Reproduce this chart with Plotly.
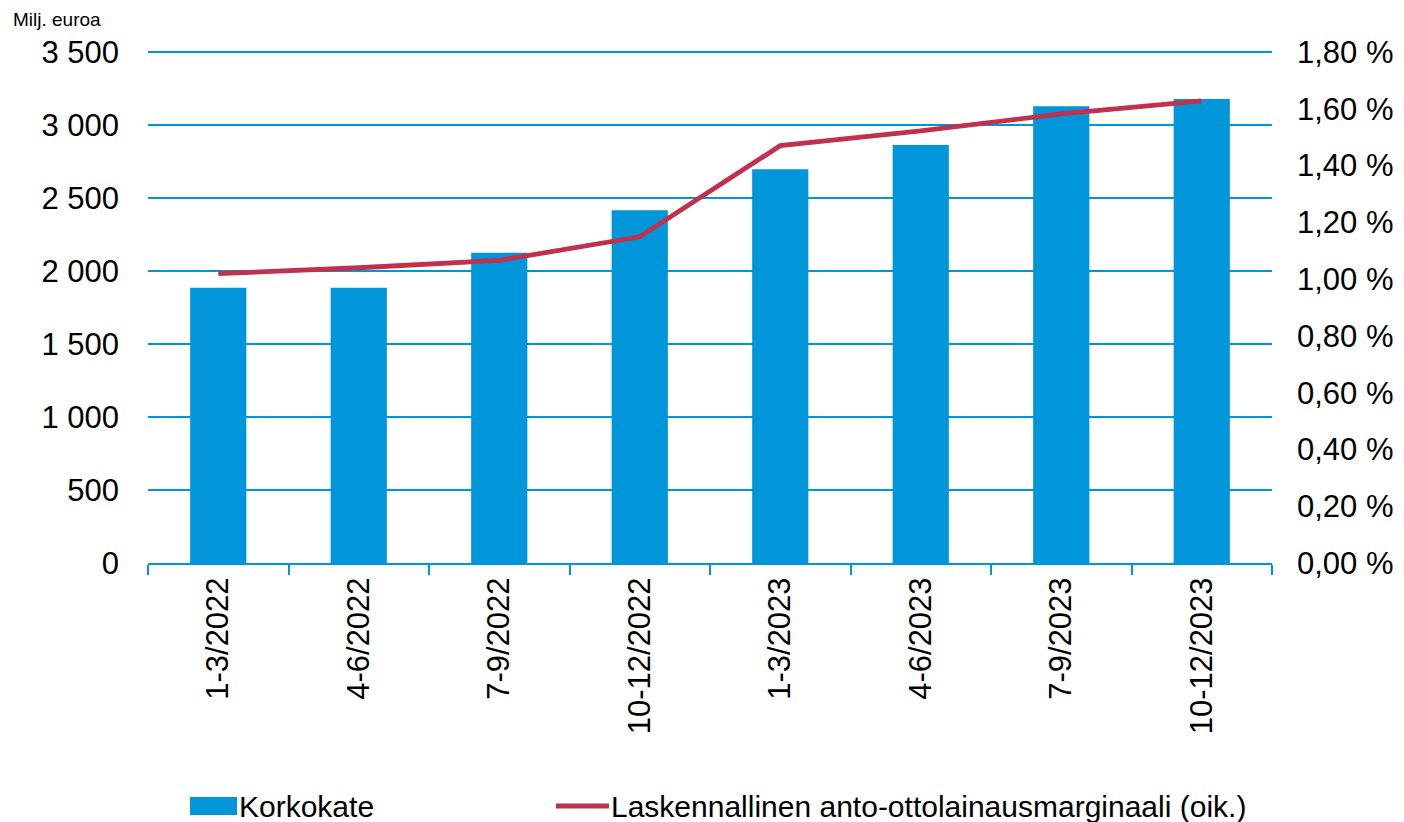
import plotly.graph_objects as go

categories = ["1-3/2022", "4-6/2022", "7-9/2022", "10-12/2022",
              "1-3/2023", "4-6/2023", "7-9/2023", "10-12/2023"]
korkokate = [1885, 1885, 2125, 2416, 2697, 2863, 3128, 3178]
marginaali = [1.019, 1.040, 1.066, 1.149, 1.470, 1.522, 1.582, 1.628]

left_ticks = [0, 500, 1000, 1500, 2000, 2500, 3000, 3500]
left_labels = ["0", "500", "1 000", "1 500", "2 000", "2 500", "3 000", "3 500"]
right_ticks = [0, 0.2, 0.4, 0.6, 0.8, 1.0, 1.2, 1.4, 1.6, 1.8]
right_labels = ["0,00 %", "0,20 %", "0,40 %", "0,60 %", "0,80 %",
                "1,00 %", "1,20 %", "1,40 %", "1,60 %", "1,80 %"]

name_bar = "Korkokate"
name_line = "Laskennallinen anto-ottolainausmarginaali (oik.)"

BLUE = "#0096D9"
RED = "#C0304F"
FONT = "Liberation Sans, Arial, sans-serif"

# page body margin offsets the figure by 8px
OFF = 8
FW, FH = 1404 - OFF, 822 - OFF
# plot area in reference-screen pixels
L, R, T, B = 148, 1272, 48, 563
W, H = R - L, B - T


def px(x):
    return (x - L) / W


def py(y):
    return (B - y) / H


fig = go.Figure()
fig.add_trace(go.Bar(x=categories, y=korkokate, name=name_bar,
                     marker=dict(color=BLUE, line=dict(width=0)), yaxis="y"))
fig.add_trace(go.Scatter(x=categories, y=marginaali, mode="lines",
                         name=name_line,
                         line=dict(color=RED, width=4.8), yaxis="y2"))

# extend the top of the range a little so the 3 500 gridline is drawn
top_pad = 515 / 511
fig.update_layout(
    width=FW, height=FH,
    margin=dict(l=L - OFF, r=FW - (R - OFF), t=T - OFF, b=FH - (B - OFF),
                autoexpand=False),
    paper_bgcolor="white", plot_bgcolor="white",
    font=dict(family=FONT, size=31, color="#000000"),
    bargap=0.6,
    showlegend=False,
    xaxis=dict(type="category", showline=True, linecolor=BLUE, linewidth=2,
               ticks="outside", tickson="boundaries", ticklen=10, tickcolor=BLUE,
               tickwidth=1.5, tickangle=-90, showgrid=False, automargin=False,
               tickfont=dict(size=31, family=FONT, color="#000000")),
    yaxis=dict(range=[0, 3500 * top_pad], tickvals=left_ticks, ticktext=left_labels,
               showgrid=True, gridcolor=BLUE, gridwidth=2, zeroline=False,
               showline=False, ticks="", ticklabelstandoff=28, automargin=False,
               tickfont=dict(size=31, family=FONT, color="#000000")),
    yaxis2=dict(range=[0, 1.8 * top_pad], overlaying="y", side="right",
                tickvals=right_ticks, ticktext=right_labels,
                showgrid=False, zeroline=False, showline=False, ticks="",
                ticklabelstandoff=24, automargin=False,
                tickfont=dict(size=31, family=FONT, color="#000000")),
    shapes=[
        dict(type="rect", xref="paper", yref="paper",
             x0=px(190), x1=px(237), y0=py(815), y1=py(797),
             fillcolor=BLUE, line=dict(width=0)),
        dict(type="line", xref="paper", yref="paper",
             x0=px(556), x1=px(609), y0=py(806), y1=py(806),
             line=dict(color=RED, width=4.8)),
    ],
    annotations=[
        dict(text="Milj. euroa", xref="paper", yref="paper",
             x=px(11), y=py(20), xanchor="left", yanchor="middle",
             showarrow=False, font=dict(size=19, family=FONT, color="#000000")),
        dict(text=name_bar, xref="paper", yref="paper",
             x=px(237), y=py(806), xanchor="left", yanchor="middle",
             showarrow=False, font=dict(size=30, family=FONT, color="#000000")),
        dict(text=name_line, xref="paper", yref="paper",
             x=px(609), y=py(806), xanchor="left", yanchor="middle",
             showarrow=False, font=dict(size=30, family=FONT, color="#000000")),
    ],
)

fig.write_html("out.html")
